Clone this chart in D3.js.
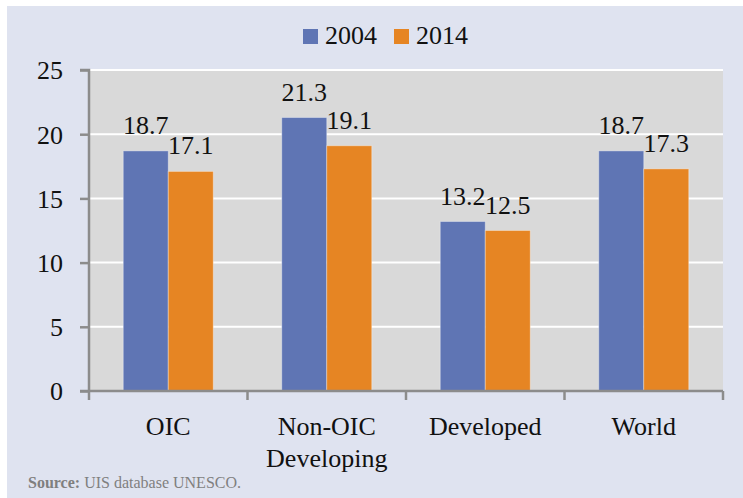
<!DOCTYPE html>
<html>
<head>
<meta charset="utf-8">
<script src="https://cdn.jsdelivr.net/npm/d3@7"></script>
<style>
  html, body { margin: 0; padding: 0; background: #ffffff; }
  svg { display: block; }
</style>
</head>
<body>
<svg id="chart" width="743" height="498"></svg>
<script>
// Pupil-teacher ratio by country group
const categories = ["OIC", "Non-OIC\nDeveloping", "Developed", "World"];
const seriesNames = ["2004", "2014"];
const values2004 = [18.7, 21.3, 13.2, 18.7];
const values2014 = [17.1, 19.1, 12.5, 17.3];
const yTicks = [0, 5, 10, 15, 20, 25];
const colors = ["#5f75b4", "#e68523"];

const seriesValues = [values2004, values2014];
const rows = categories.map((c, i) => ({
  cat: c,
  vals: seriesNames.map((s, j) => ({ key: s, value: seriesValues[j][i] }))
}));

const svg = d3.select("#chart");
const W = 743, H = 498;
const plot = { left: 89, right: 723, top: 70, bottom: 391 };
const serif = "'Liberation Serif', 'DejaVu Serif', serif";

// page background
svg.append("rect")
  .attr("x", 7).attr("y", 6).attr("width", W - 7).attr("height", H - 6)
  .attr("fill", "#dfe3f0");

const x0 = d3.scaleBand().domain(categories).range([plot.left, plot.right]).padding(0);
const x1 = d3.scaleBand().domain(seriesNames).range([0, x0.bandwidth()])
  .paddingInner(0).paddingOuter(0.761);
const y = d3.scaleLinear().domain([0, 25]).range([plot.bottom, plot.top]);

// plot area
svg.append("rect")
  .attr("x", plot.left).attr("y", plot.top)
  .attr("width", plot.right - plot.left).attr("height", plot.bottom - plot.top)
  .attr("fill", "#d9d9d9");

// gridlines
svg.append("g").selectAll("line")
  .data(yTicks.filter(t => t > 0))
  .join("line")
  .attr("x1", plot.left).attr("x2", plot.right)
  .attr("y1", d => y(d)).attr("y2", d => y(d))
  .attr("stroke", "#ffffff").attr("stroke-width", 2);

// bars
const groups = svg.append("g").selectAll("g")
  .data(rows)
  .join("g")
  .attr("transform", d => `translate(${x0(d.cat)},0)`);

groups.selectAll("rect")
  .data(d => d.vals)
  .join("rect")
  .attr("x", d => x1(d.key))
  .attr("y", d => y(d.value))
  .attr("width", x1.bandwidth())
  .attr("height", d => y(0) - y(d.value))
  .attr("fill", (d, i) => colors[i])
  .attr("stroke", "rgba(255,255,255,0.35)")
  .attr("stroke-width", 1);

// value labels
groups.selectAll("text")
  .data(d => d.vals)
  .join("text")
  .attr("x", d => x1(d.key) + x1.bandwidth() / 2)
  .attr("y", d => y(d.value) - 17)
  .attr("text-anchor", "middle")
  .attr("font-family", serif)
  .attr("font-size", 26)
  .attr("fill", "#111")
  .text(d => d.value.toFixed(1));

// y axis
const yAxis = svg.append("g")
  .attr("transform", `translate(${plot.left},0)`)
  .call(d3.axisLeft(y).tickValues(yTicks).tickSize(9).tickPadding(17).tickFormat(d3.format("d")));
yAxis.select(".domain").attr("stroke", "#8c8c8c").attr("stroke-width", 2.5).attr("d", `M-9,${plot.top}H0V${plot.bottom}`);
yAxis.selectAll(".tick line").attr("stroke", "#8c8c8c").attr("stroke-width", 2.5);
yAxis.selectAll(".tick text")
  .attr("font-family", serif).attr("font-size", 26).attr("fill", "#111")
  .attr("dy", "0.34em");

// x axis with boundary ticks
const xAxis = svg.append("g");
xAxis.append("line")
  .attr("x1", plot.left - 9).attr("x2", plot.right)
  .attr("y1", plot.bottom).attr("y2", plot.bottom)
  .attr("stroke", "#8c8c8c").attr("stroke-width", 2.5);
const bounds = categories.map(c => x0(c)).concat([x0(categories[categories.length - 1]) + x0.bandwidth()]);
xAxis.selectAll("line.tk")
  .data(bounds)
  .join("line")
  .attr("class", "tk")
  .attr("x1", d => d).attr("x2", d => d)
  .attr("y1", plot.bottom).attr("y2", plot.bottom + 9)
  .attr("stroke", "#8c8c8c").attr("stroke-width", 2.5);

// category labels
const catText = svg.append("g").selectAll("text")
  .data(categories)
  .join("text")
  .attr("x", d => x0(d) + x0.bandwidth() / 2)
  .attr("y", 435)
  .attr("text-anchor", "middle")
  .attr("font-family", serif)
  .attr("font-size", 26)
  .attr("fill", "#111");
catText.each(function(d) {
  const t = d3.select(this);
  d.split("\n").forEach((line, i) => {
    t.append("tspan")
      .attr("x", x0(d) + x0.bandwidth() / 2)
      .attr("dy", i === 0 ? 0 : 32)
      .text(line);
  });
});

// legend
const legendItems = [
  { name: seriesNames[0], color: colors[0], x: 303 },
  { name: seriesNames[1], color: colors[1], x: 394 }
];
const legend = svg.append("g").selectAll("g")
  .data(legendItems)
  .join("g")
  .attr("transform", d => `translate(${d.x},29)`);
legend.append("rect")
  .attr("width", 15).attr("height", 15)
  .attr("fill", d => d.color);
legend.append("text")
  .attr("x", 22).attr("y", 15)
  .attr("font-family", serif).attr("font-size", 26).attr("fill", "#111")
  .text(d => d.name);

// source note
const src = svg.append("text")
  .attr("x", 28).attr("y", 488)
  .attr("font-family", serif).attr("font-size", 16).attr("fill", "#7f7f7f");
src.append("tspan").attr("font-weight", "bold").text("Source:");
src.append("tspan").text(" UIS database UNESCO.");
</script>
</body>
</html>
